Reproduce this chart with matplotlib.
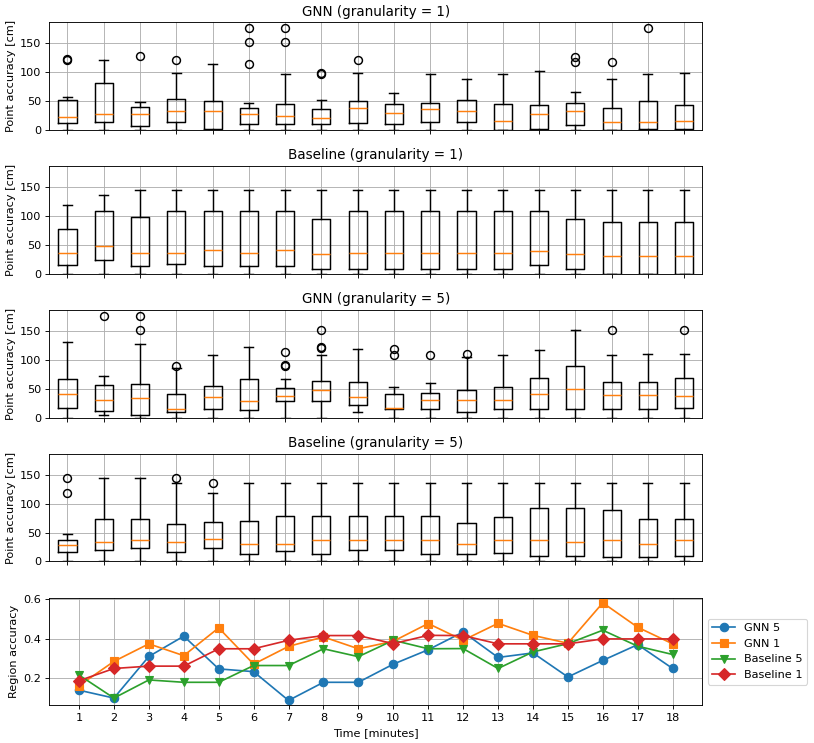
import matplotlib
matplotlib.use("Agg")
import matplotlib.pyplot as plt

minutes = list(range(1, 19))

# box stats (cm)
gnn1_lo = [0] * 18
gnn1_q1 = [12, 13, 7, 14, 2, 10, 10, 10, 12, 10, 13, 13, 0, 2, 7.5, 0, 2, 2]
gnn1_med = [22, 27, 27, 32, 33, 27, 23, 21, 38, 29, 36, 32, 14.5, 28, 32, 13, 13, 15]
gnn1_q3 = [52, 80, 40, 54, 49, 38, 45, 35, 50, 45, 47, 52, 45, 42, 46, 38, 50, 42]
gnn1_hi = [56, 120, 48, 98, 114, 46, 97, 51, 98, 64, 97, 87, 97, 102, 65, 87, 97, 98]
gnn1_fliers = [[120, 122], [], [127], [120], [], [114, 151, 176], [151, 176],
               [97, 98], [120], [], [], [], [], [], [117, 126], [117], [176], []]

base1_lo = [0] * 18
base1_q1 = [14.5, 24, 13, 17, 13, 13, 13, 8, 8, 8, 8, 8, 8, 14.5, 8, 0, 0, 0]
base1_med = [36, 48, 36, 36.5, 41, 36.5, 41, 33.6, 36.5, 36.5, 36.5, 36.5, 36.5,
             39, 33.6, 31, 31, 31]
base1_q3 = [77, 109, 98, 109, 109, 109, 109, 94, 109, 109, 109, 109, 109, 109,
            94, 89, 89, 89]
base1_hi = [118, 136] + [144] * 16
base1_fliers = [[] for _ in range(18)]

gnn5_lo = [0, 5, 0, 0, 0, 0, 0, 0, 10, 0, 0, 0, 0, 0, 0, 0, 0, 0]
gnn5_q1 = [17, 12, 5, 9, 15, 13, 28, 28, 21, 14.5, 14, 9, 14, 14.5, 14, 15.6, 15.6, 17]
gnn5_med = [40, 31, 33, 15.6, 35, 29, 37, 47.5, 35, 17, 29.5, 29.5, 30.7, 40.5,
            49, 39, 39, 38]
gnn5_q3 = [67, 56, 58.5, 40.5, 54, 66.6, 51, 63, 62, 40, 42, 48, 53, 68, 90, 62, 62, 68]
gnn5_hi = [131, 72, 127, 86, 109, 121.6, 67, 109, 118, 53, 60, 104, 109, 117.5,
           152, 108, 110, 110]
gnn5_fliers = [[], [176], [152, 176], [90], [], [], [89, 91, 113], [120, 122, 152],
               [], [109, 118], [109], [110], [], [], [], [152], [], [152]]

base5_lo = [0] * 18
base5_q1 = [17, 20, 22.6, 17, 23, 12.7, 18.5, 12.7, 19, 19, 12.7, 12.7, 14.5, 9, 9,
            7, 7, 10]
base5_med = [29, 33, 37, 33, 39, 30, 30, 37, 37, 37, 37, 30, 37, 37, 33.6, 37, 30, 37]
base5_q3 = [36.5, 74, 73, 65, 68, 70.6, 79, 79, 79, 79, 79, 66.6, 77, 93, 93, 88.6,
            73.5, 73.5]
base5_hi = [47.5, 144, 144, 136, 119] + [136] * 13
base5_fliers = [[118, 144], [], [], [144], [136]] + [[] for _ in range(13)]

# region accuracy
region_gnn5 = [0.14, 0.10, 0.311, 0.414, 0.248, 0.234, 0.088, 0.18, 0.18, 0.272,
               0.345, 0.435, 0.306, 0.329, 0.207, 0.291, 0.371, 0.25]
region_gnn1 = [0.163, 0.286, 0.375, 0.315, 0.456, 0.272, 0.362, 0.41, 0.35, 0.388,
               0.478, 0.393, 0.479, 0.418, 0.378, 0.583, 0.459, 0.375]
region_base5 = [0.217, 0.10, 0.192, 0.18, 0.18, 0.265, 0.265, 0.35, 0.31, 0.393,
                0.35, 0.351, 0.25, 0.334, 0.376, 0.444, 0.363, 0.321]
region_base1 = [0.188, 0.25, 0.262, 0.262, 0.35, 0.35, 0.393, 0.417, 0.417, 0.376,
                0.418, 0.417, 0.375, 0.375, 0.375, 0.40, 0.40, 0.40]


def make_stats(lo, q1, med, q3, hi, fliers):
    return [dict(whislo=a, q1=b, med=c, q3=d, whishi=e, fliers=f)
            for a, b, c, d, e, f in zip(lo, q1, med, q3, hi, fliers)]


panels = [
    ("GNN (granularity = 1)",
     make_stats(gnn1_lo, gnn1_q1, gnn1_med, gnn1_q3, gnn1_hi, gnn1_fliers)),
    ("Baseline (granularity = 1)",
     make_stats(base1_lo, base1_q1, base1_med, base1_q3, base1_hi, base1_fliers)),
    ("GNN (granularity = 5)",
     make_stats(gnn5_lo, gnn5_q1, gnn5_med, gnn5_q3, gnn5_hi, gnn5_fliers)),
    ("Baseline (granularity = 5)",
     make_stats(base5_lo, base5_q1, base5_med, base5_q3, base5_hi, base5_fliers)),
]

DPI = 81
fig, axes = plt.subplots(5, 1, figsize=(814 / DPI, 743 / DPI), dpi=DPI)
fig.subplots_adjust(left=0.0606, right=0.8628, top=0.970, bottom=0.0507, hspace=0.34)

line_w = 1.3
for ax, (title, stats) in zip(axes[:4], panels):
    ax.bxp(stats, positions=minutes,
           boxprops=dict(linewidth=line_w),
           whiskerprops=dict(linewidth=line_w),
           capprops=dict(linewidth=line_w),
           medianprops=dict(linewidth=line_w),
           flierprops=dict(markersize=7, markeredgewidth=line_w))
    ax.set_title(title, fontsize=12)
    ax.set_ylabel("Point accuracy [cm]")
    ax.set_xlim(0.5, 18.5)
    ax.set_ylim(0, 186)
    ax.set_yticks([0, 50, 100, 150])
    ax.tick_params(labelbottom=False)
    ax.grid(True)

ax = axes[4]
style = dict(linewidth=1.5, markersize=7.5)
ax.plot(minutes, region_gnn5, marker="o", label="GNN 5", **style)
ax.plot(minutes, region_gnn1, marker="s", label="GNN 1", **style)
ax.plot(minutes, region_base5, marker="v", label="Baseline 5", **style)
ax.plot(minutes, region_base1, marker="D", label="Baseline 1", **style)
ax.set_xticks(minutes)
ax.set_yticks([0.2, 0.4, 0.6])
ax.set_xlabel("Time [minutes]")
ax.set_ylabel("Region accuracy")
ax.grid(True)
ax.legend(loc="center left", bbox_to_anchor=(1, 0.5))

fig.savefig("out.png", dpi=DPI)
